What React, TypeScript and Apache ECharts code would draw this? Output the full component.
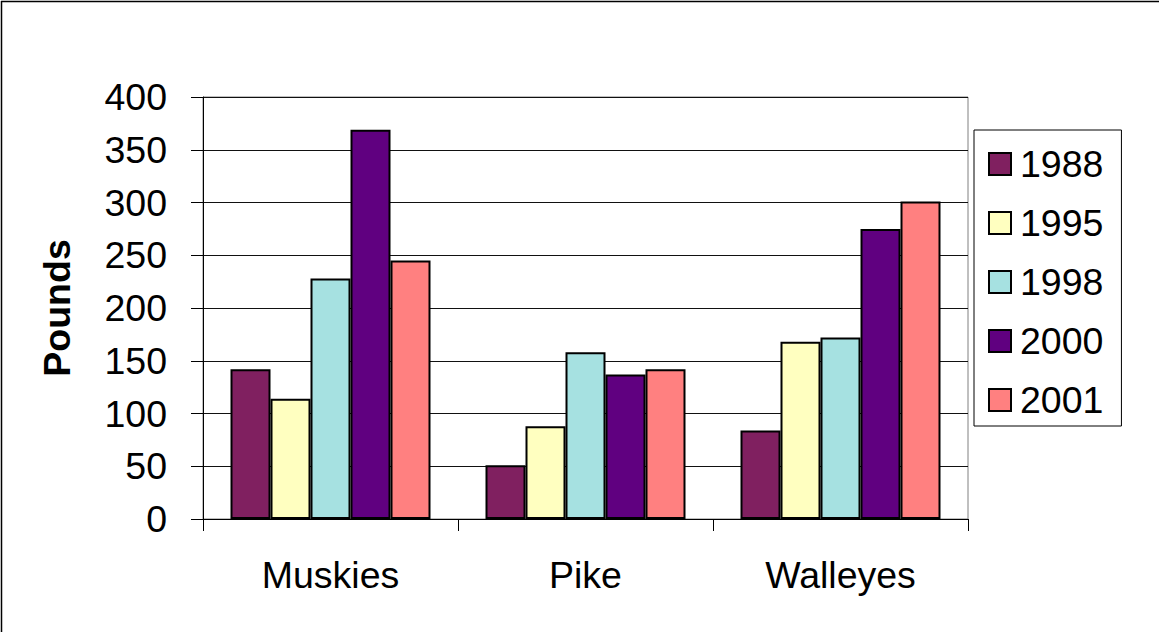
import React, { useEffect, useRef } from "react";
import * as echarts from "echarts";

const categories = ["Muskies", "Pike", "Walleyes"];
const years = ["1988", "1995", "1998", "2000", "2001"];
const values1988 = [142, 51, 84];
const values1995 = [114, 88, 168];
const values1998 = [228, 158, 172];
const values2000 = [369, 137, 275];
const values2001 = [245, 142, 301];
const seriesValues = [values1988, values1995, values1998, values2000, values2001];
const colors = ["#802060", "#FFFFC0", "#A6E1E1", "#600080", "#FF8080"];
const yTicks = { min: 0, max: 400, interval: 50 };

const FONT = "'Liberation Sans', Arial, Helvetica, sans-serif";
const FS = 37.5;

export default function App() {
  const ref = useRef<HTMLDivElement>(null);
  useEffect(() => {
    if (!ref.current) return;
    const chart = echarts.init(ref.current, null, { renderer: "svg" });
    chart.setOption({
      animation: false,
      backgroundColor: "#ffffff",
      textStyle: { fontFamily: FONT },
      grid: {
        left: 203,
        right: 191,
        top: 97,
        bottom: 113,
        show: true,
        borderColor: "#808080",
        borderWidth: 1,
        backgroundColor: "transparent",
      },
      legend: {
        orient: "vertical",
        left: 974,
        top: 130,
        padding: [15, 18, 7, 14],
        itemWidth: 22,
        itemHeight: 22,
        itemGap: 21,
        borderColor: "#000",
        borderWidth: 1,
        icon: "rect",
        textStyle: { fontFamily: FONT, fontSize: FS, color: "#000", padding: [0, 0, 0, 4] },
        data: years,
      },
      xAxis: {
        type: "category",
        data: categories,
        axisLine: { show: true, lineStyle: { color: "#000", width: 1 } },
        axisTick: { show: true, length: 12, alignWithLabel: false, lineStyle: { color: "#000" } },
        axisLabel: { fontFamily: FONT, fontSize: FS, color: "#000", margin: 37 },
        splitLine: { show: false },
      },
      yAxis: {
        type: "value",
        min: yTicks.min,
        max: yTicks.max,
        interval: yTicks.interval,
        name: "Pounds",
        nameLocation: "middle",
        nameRotate: 90,
        nameGap: 127,
        nameTextStyle: { fontFamily: FONT, fontSize: FS, fontWeight: "bold", color: "#000" },
        axisLine: { show: true, lineStyle: { color: "#000", width: 1 } },
        axisTick: { show: true, length: 12, lineStyle: { color: "#000" } },
        axisLabel: { fontFamily: FONT, fontSize: FS, color: "#000", margin: 36 },
        splitLine: { show: true, lineStyle: { color: "#111", width: 1 } },
      },
      series: years.map((y, i) => ({
        name: y,
        type: "bar",
        data: seriesValues[i],
        barWidth: 40,
        barGap: "0%",
        itemStyle: { color: colors[i], borderColor: "#000", borderWidth: 2 },
      })),
      graphic: [
        { type: "line", shape: { x1: 1, y1: 1.5, x2: 1159, y2: 1.5 }, style: { stroke: "#000", lineWidth: 1.5 } },
        { type: "line", shape: { x1: 1.5, y1: 1, x2: 1.5, y2: 632 }, style: { stroke: "#000", lineWidth: 1.5 } },
      ],
    });
    return () => chart.dispose();
  }, []);
  return (
    <div
      ref={ref}
      style={{ position: "fixed", left: 0, top: 0, width: 1159, height: 632 }}
    />
  );
}
